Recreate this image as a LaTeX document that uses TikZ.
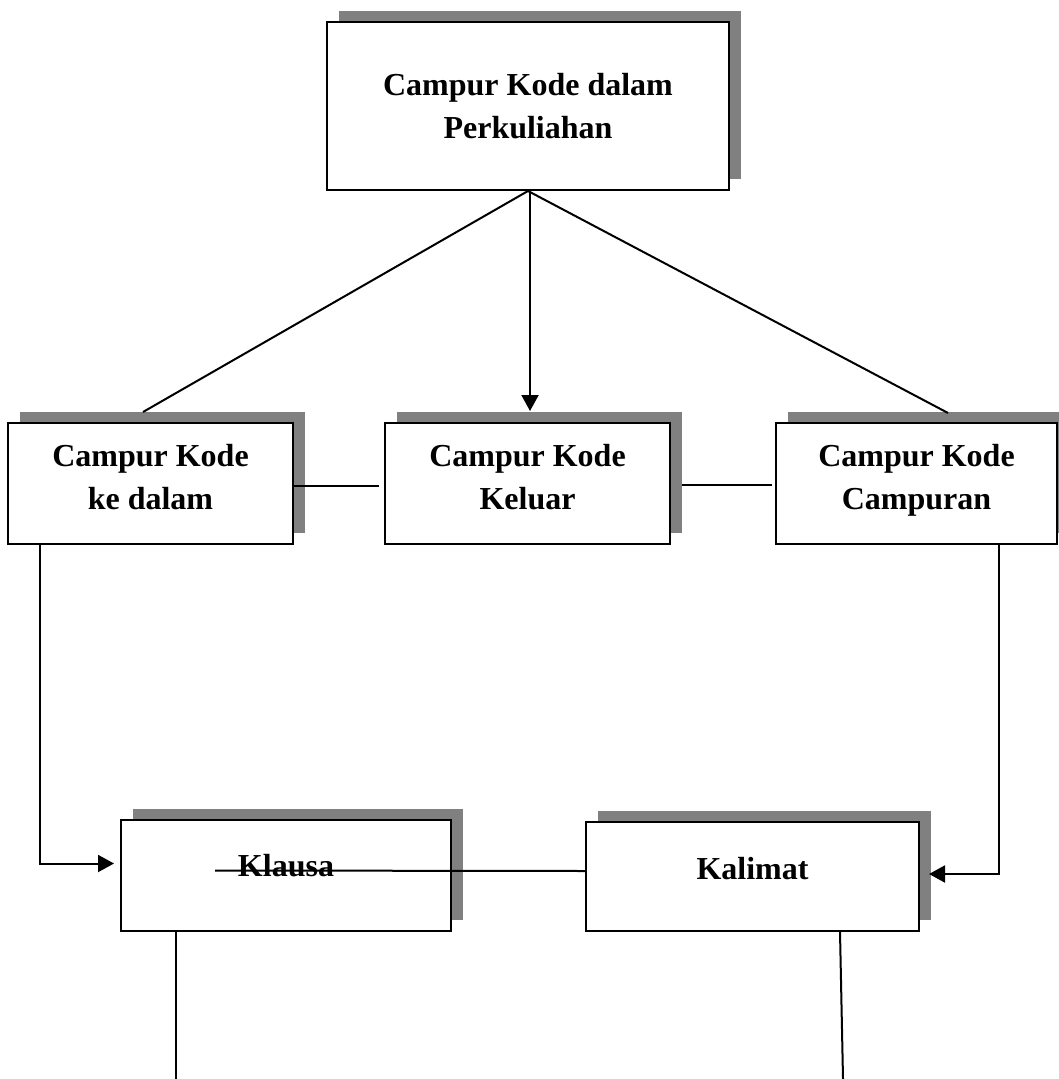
\documentclass[tikz,border=0pt]{standalone}
\usepackage{fontspec}
\setmainfont{Liberation Serif}
\usepackage{tikz}
\usetikzlibrary{calc}
\usetikzlibrary{shadows,arrows.meta}

\tikzset{
	kotak/.style={draw, line width=1pt, fill=white, align=center,
		font=\fontsize{16}{21.5}\selectfont\bfseries, inner sep=0pt,
		drop shadow={shadow xshift=5.75pt, shadow yshift=5.5pt, fill=gray, opacity=1}},
	garis/.style={line width=1pt},
	panah/.style={line width=1pt, -{Triangle[length=8pt,width=8.5pt]}}
}

\begin{document}
\begin{tikzpicture}[x=0.5pt, y=-0.5pt]
	\useasboundingbox (0,0) rectangle (1058,1079);

	% Boxes
	\node[kotak, minimum width=201pt, minimum height=84pt] (topik) at (528,106)
		{Campur Kode dalam\\Perkuliahan};
	\node[kotak, minimum width=142.5pt, minimum height=60.5pt, text depth=7pt] (kedalam) at (150.5,483.5)
		{Campur Kode\\ke dalam};
	\node[kotak, minimum width=142.5pt, minimum height=60.5pt, text depth=7pt] (keluar) at (527.5,483.5)
		{Campur Kode\\Keluar};
	\node[kotak, minimum width=140.5pt, minimum height=60.5pt, text depth=7pt] (campuran) at (916.5,483.5)
		{Campur Kode\\Campuran};
	\node[kotak, minimum width=165pt, minimum height=55.5pt, text depth=10.5pt] (klausa) at (286,875.5)
		{Klausa};
	\node[kotak, minimum width=166.5pt, minimum height=54.5pt, text depth=8pt] (kalimat) at (752.5,876.5)
		{Kalimat};

	% Free ends
	\coordinate (ujungA) at (176,1079);
	\coordinate (ujungB) at (843,1079);

	% From the top box
	\draw[garis] (topik.south) -- ([xshift=-3.75pt,yshift=5pt]kedalam.north);
	\draw[garis] (topik.south) -- ([xshift=15.75pt,yshift=4.5pt]campuran.north);
	\draw[panah] ([xshift=1pt]topik.south) -- ([xshift=1.25pt,yshift=5.5pt]keluar.north);

	% Middle row
	\draw[garis] ([yshift=-1.25pt]kedalam.east) -- ([xshift=-2.5pt,yshift=-1.25pt]keluar.west);
	\draw[garis] ([xshift=5.5pt,yshift=-0.75pt]keluar.east) -- ([xshift=-1.5pt,yshift=-0.75pt]campuran.west);

	% Down to the bottom row
	\draw[panah] ([xshift=16.5pt]kedalam.south west) |- ([xshift=-3pt,yshift=6pt]klausa.west);
	\draw[panah] ([xshift=-29.5pt]campuran.south east) |- ([xshift=4.5pt,yshift=1.25pt]kalimat.east);
	\draw[garis] ([xshift=-35.5pt,yshift=2.5pt]klausa.center) -- ([yshift=2.75pt]kalimat.west);

	% Bottom lines
	\draw[garis] ([xshift=-55pt]klausa.south) -- (ujungA);
	\draw[garis] ([xshift=43.75pt]kalimat.south) -- (ujungB);
\end{tikzpicture}
\end{document}
